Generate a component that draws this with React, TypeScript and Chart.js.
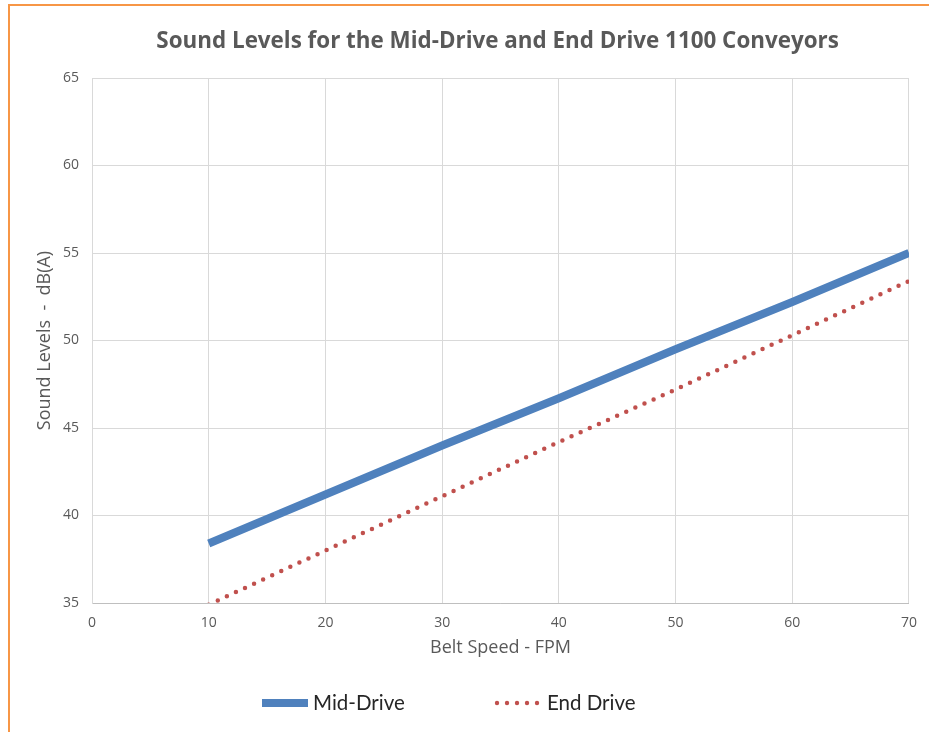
import React, { useEffect, useRef } from 'react';
import { Chart, registerables } from 'chart.js';

Chart.register(...registerables);

// ---- Data ----
const beltSpeedFPM = [10, 20, 30, 40, 50, 60, 70];
const midDriveDbA = [38.4, 41.2, 44.0, 46.7, 49.5, 52.2, 55.0];
const endDriveDbA = [34.9, 38.0, 41.1, 44.2, 47.2, 50.3, 53.4];
const seriesNames = ['Mid-Drive', 'End Drive'];
const xTickRange = [0, 70, 10]; // min, max, step
const yTickRange = [35, 65, 5];

const chartTitle = 'Sound Levels for the Mid-Drive and End Drive 1100 Conveyors';
const xTitle = 'Belt Speed - FPM';
const yTitle = 'Sound Levels  -  dB(A)';

const BLUE = '#4F81BD';
const RED = '#C0504D';
const GRAY_TEXT = '#595959';

const customLegend = {
  id: 'customLegend',
  afterLayout(chart: any) {
    // the original title is centred on the full (wider) chart object
    const t = chart.titleBlock;
    if (t) {
      t.left += 27;
      t.right += 27;
    }
  },
  afterDraw(chart: any) {
    const ctx = chart.ctx;
    const area = chart.chartArea;
    const cy = area.bottom + 100;
    ctx.save();
    ctx.font = '20.5px Lato';
    ctx.textBaseline = 'middle';
    ctx.textAlign = 'left';
    // Mid-Drive: thick blue line swatch
    const x0 = area.left + 170;
    ctx.fillStyle = BLUE;
    ctx.fillRect(x0, cy - 4, 46, 8);
    ctx.fillStyle = '#262626';
    ctx.fillText(chart.data.datasets[0].label, x0 + 51, cy);
    // End Drive: dotted red swatch
    const x1 = area.left + 405;
    ctx.fillStyle = RED;
    for (let i = 0; i < 5; i++) {
      ctx.beginPath();
      ctx.arc(x1 + i * 10, cy, 2.2, 0, Math.PI * 2);
      ctx.fill();
    }
    ctx.fillStyle = '#262626';
    ctx.fillText(chart.data.datasets[1].label, x1 + 50, cy);
    ctx.restore();
  },
};

export default function App() {
  const canvasRef = useRef<HTMLCanvasElement | null>(null);

  useEffect(() => {
    if (!canvasRef.current) return;
    const chart = new Chart(canvasRef.current, {
      type: 'line',
      data: {
        datasets: [
          {
            label: seriesNames[0],
            data: beltSpeedFPM.map((x, i) => ({ x, y: midDriveDbA[i] })),
            borderColor: BLUE,
            backgroundColor: BLUE,
            borderWidth: 8,
            pointRadius: 0,
            tension: 0,
            borderCapStyle: 'butt',
          },
          {
            label: seriesNames[1],
            data: beltSpeedFPM.map((x, i) => ({ x, y: endDriveDbA[i] })),
            borderColor: RED,
            backgroundColor: RED,
            borderWidth: 4.5,
            borderDash: [0, 10],
            borderCapStyle: 'round',
            pointRadius: 0,
            tension: 0,
          },
        ],
      },
      options: {
        responsive: false,
        animation: false,
        layout: { padding: { left: 30.2, right: 18, top: 0, bottom: 69.2 } },
        plugins: {
          legend: { display: false },
          tooltip: { enabled: false },
          title: {
            display: true,
            text: chartTitle,
            color: GRAY_TEXT,
            font: { family: 'Open Sans', size: 22.4, weight: 'bold' },
            padding: { top: 28.56, bottom: 22.56 },
          },
        },
        scales: {
          x: {
            type: 'linear',
            min: xTickRange[0],
            max: xTickRange[1],
            ticks: {
              stepSize: xTickRange[2],
              color: GRAY_TEXT,
              font: { family: 'Open Sans', size: 14 },
              padding: 12,
              maxRotation: 0,
            },
            grid: { color: '#d9d9d9', lineWidth: 1, drawTicks: false },
            border: { display: true, color: '#bfbfbf', width: 1 },
            title: {
              display: true,
              text: xTitle,
              color: GRAY_TEXT,
              font: { family: 'Open Sans', size: 18 },
              padding: { top: 4, bottom: 4 },
            },
            afterFit(scale: any) {
              scale.height = 59.8;
            },
          },
          y: {
            type: 'linear',
            min: yTickRange[0],
            max: yTickRange[1],
            ticks: {
              stepSize: yTickRange[2],
              color: GRAY_TEXT,
              font: { family: 'Open Sans', size: 14 },
              padding: 13,
            },
            grid: { color: '#d9d9d9', lineWidth: 1, drawTicks: false },
            border: { display: true, color: '#d9d9d9', width: 1 },
            title: {
              display: true,
              text: yTitle,
              color: GRAY_TEXT,
              font: { family: 'Open Sans', size: 18 },
              padding: { top: 4, bottom: 4 },
            },
            afterFit(scale: any) {
              scale.width = 61.8;
            },
          },
        },
      },
      plugins: [customLegend],
    });
    return () => chart.destroy();
  }, []);

  return (
    <div
      style={{
        position: 'fixed',
        left: 0,
        top: 0,
        width: 929,
        height: 732,
        overflow: 'hidden',
        background: '#ffffff',
      }}
    >
      <div
        style={{
          position: 'absolute',
          left: 8,
          top: 4,
          width: 1100,
          height: 1000,
          borderLeft: '2px solid #F79646',
          borderTop: '2px solid #F79646',
          boxSizing: 'border-box',
        }}
      />
      <canvas
        ref={canvasRef}
        width={929}
        height={732}
        style={{ position: 'absolute', left: 0, top: 0, display: 'block' }}
      />
    </div>
  );
}
